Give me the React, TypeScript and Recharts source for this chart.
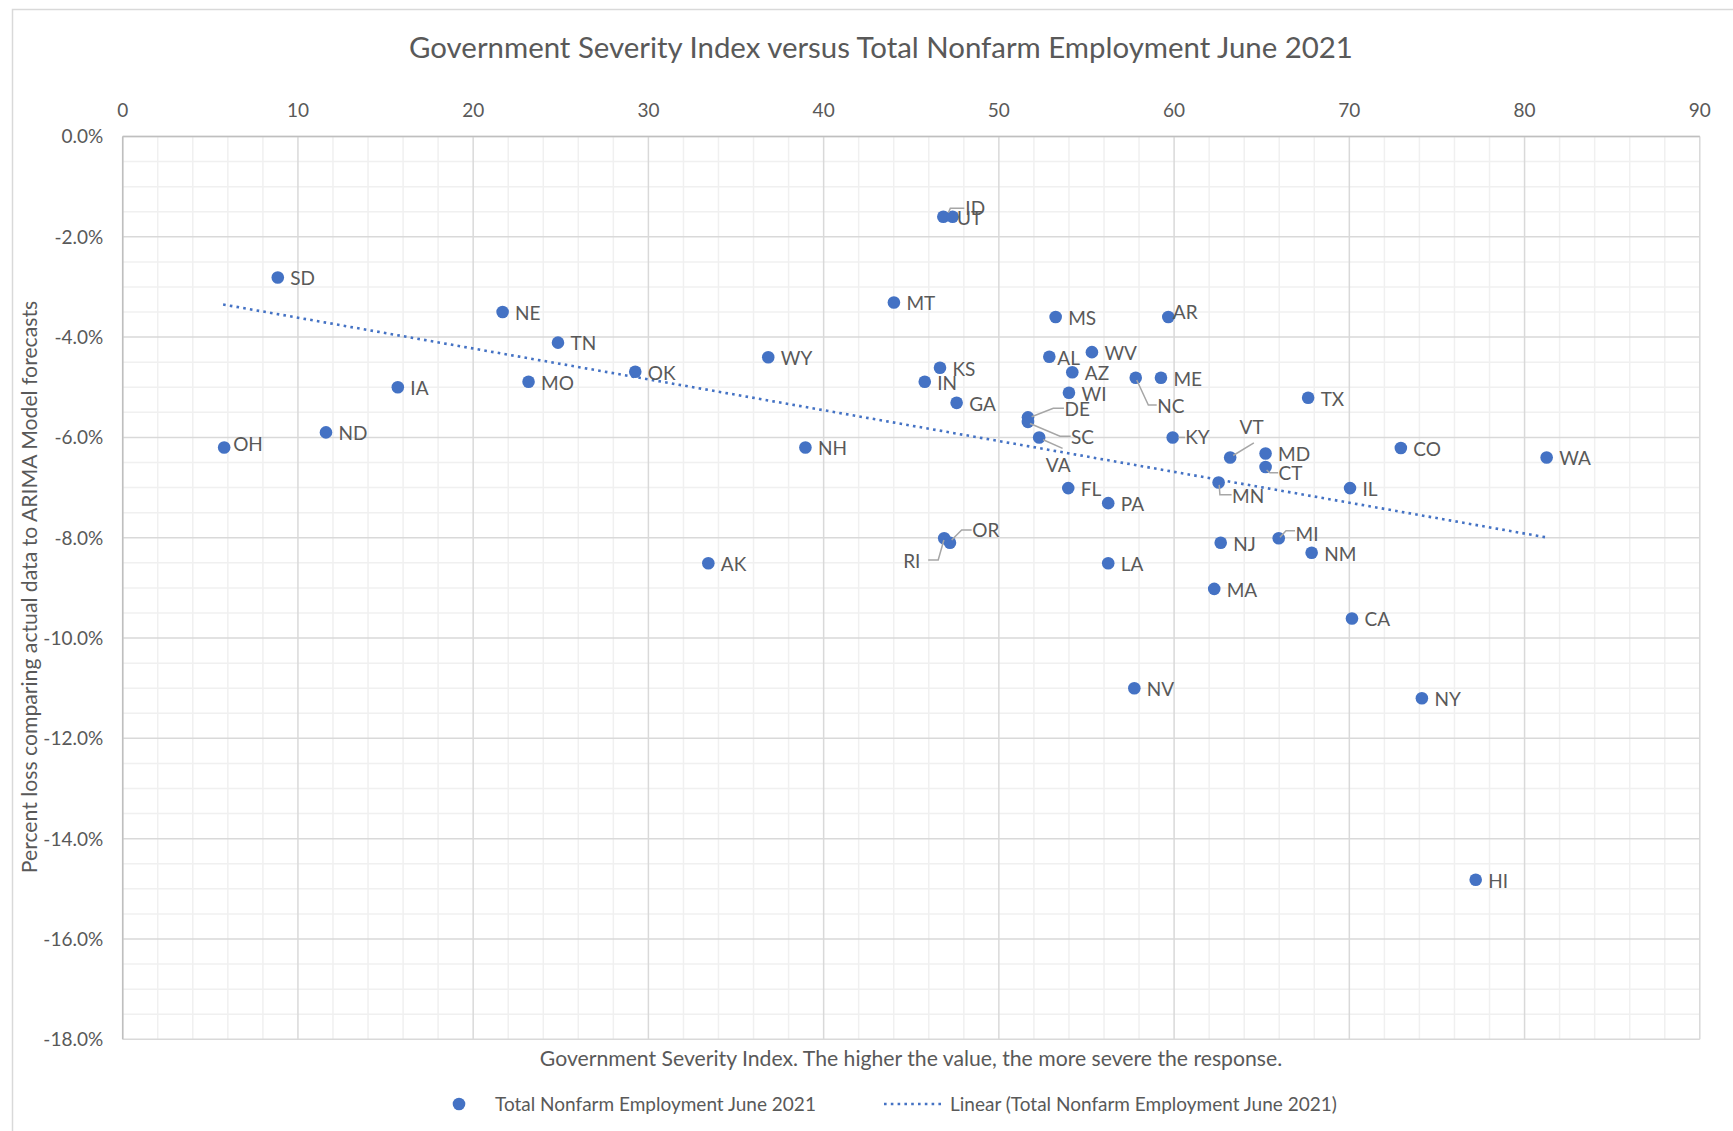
import React from 'react';
import { ScatterChart, Scatter, XAxis, YAxis, CartesianGrid } from 'recharts';

// ---------- data ----------
const states = ['OH','SD','ND','IA','NE','MO','TN','OK','AK','WY','NH','MT','IN','KS','ID','UT','RI','OR','GA','DE','SC','VA','AL','MS','FL','WI','AZ','WV','PA','LA','NV','NC','ME','AR','KY','MA','MN','NJ','VT','MD','CT','MI','TX','NM','IL','CA','CO','NY','HI','WA'];
const severityIndex = [5.79, 8.85, 11.60, 15.70, 21.68, 23.16, 24.84, 29.25, 33.42, 36.84, 38.96, 44.01, 45.77, 46.64, 46.83, 47.36, 46.88, 47.21, 47.59, 51.66, 51.66, 52.30, 52.88, 53.24, 53.96, 54.00, 54.19, 55.31, 56.24, 56.24, 57.73, 57.81, 59.25, 59.67, 59.92, 62.29, 62.54, 62.66, 63.20, 65.22, 65.22, 65.97, 67.65, 67.85, 70.04, 70.15, 72.94, 74.14, 77.21, 81.26];
const percentLoss = [-6.20, -2.81, -5.90, -5.00, -3.50, -4.89, -4.11, -4.69, -8.51, -4.40, -6.20, -3.31, -4.89, -4.61, -1.60, -1.60, -8.01, -8.10, -5.31, -5.60, -5.69, -6.00, -4.39, -3.60, -7.01, -5.11, -4.70, -4.30, -7.31, -8.51, -11.00, -4.81, -4.81, -3.60, -6.00, -9.02, -6.90, -8.10, -6.40, -6.32, -6.59, -8.01, -5.21, -8.30, -7.01, -9.61, -6.21, -11.20, -14.82, -6.40];

// linear trendline end points
const trendX = [5.73, 81.2];
const trendY = [-3.35, -7.99];

const xTicks = [0, 10, 20, 30, 40, 50, 60, 70, 80, 90];
const yTicks = [0, -2, -4, -6, -8, -10, -12, -14, -16, -18];

const title = 'Government Severity Index versus Total Nonfarm Employment June 2021';
const xTitle = 'Government Severity Index. The higher the value, the more severe the response.';
const yTitle = 'Percent loss comparing actual data to ARIMA Model forecasts';
const seriesName = 'Total Nonfarm Employment June 2021';
const trendName = 'Linear (Total Nonfarm Employment June 2021)';

// ---------- derived tables ----------
const points = states.map((s, i) => ({ state: s, x: severityIndex[i], y: percentLoss[i] }));
const trendData = trendX.map((x, i) => ({ x, y: trendY[i] }));

const xMinor: number[] = [];
for (let i = 0; i < xTicks.length - 1; i++) {
  for (let k = 1; k < 5; k++) xMinor.push(xTicks[i] + k * 2);
}
const yMinor: number[] = [];
for (let i = 0; i < yTicks.length - 1; i++) {
  for (let k = 1; k < 4; k++) yMinor.push(yTicks[i] - k * 0.5);
}

// ---------- style ----------
const FONT = 'Lato, "Open Sans", sans-serif';
const TXT = '#595959';
const BLUE = '#4472C4';
const FS = 19;
const CAP = 0.36;
const TITLE_FS = 29.4;
const AXT_FS = 21.2;

type LabelCfg = { dx?: number; dy?: number; anchor?: 'start' | 'middle' | 'end'; leader?: number[][] };
const labelLayout: Record<string, LabelCfg> = {
  ID: { dx: 22, dy: -8.4, leader: [[5, -4], [7, -8.4], [21, -8.4]] },
  UT: { dx: 4.5, dy: 1.6 },
  DE: { dx: 36.5, dy: -8, leader: [[3.7, -0.6], [25.3, -9], [36, -9]] },
  SC: { dx: 43, dy: 15, leader: [[2, 1.6], [32, 14.3], [42.7, 14.3]] },
  VA: { dx: 19, dy: 27.3, anchor: 'middle', leader: [[4, 2.3], [23.4, 11]] },
  NC: { dx: 21.5, dy: 28.3, leader: [[1, 2.3], [12.6, 27.3], [21, 27.3]] },
  KY: { dx: 12.5, dy: 0, leader: [[5.6, 0], [12.3, 0]] },
  AR: { dx: 4.5, dy: -4.6 },
  VT: { dx: 21.4, dy: -30, anchor: 'middle', leader: [[3, -2], [23.7, -14.6]] },
  CT: { dx: 13, dy: 6.3, leader: [[1, 3], [4.3, 5.7], [12.6, 5.7]] },
  MN: { dx: 13.5, dy: 14, leader: [[0.6, 2.3], [1.3, 12.3], [13, 12.3]] },
  MI: { dx: 16.8, dy: -4, leader: [[1.3, -1], [7.3, -7.6], [16.3, -7.6]] },
  OR: { dx: 22.2, dy: -12.7, leader: [[1.7, -2.7], [11.7, -12.7], [21.7, -12.7]] },
  RI: { dx: -23.8, dy: 23.4, anchor: 'end', leader: [[-0.3, 1.7], [-6, 21.7], [-16, 21.7]] },
  AL: { dx: 8 },
  OH: { dx: 9, dy: -3 },
};

const Marker = (props: any) => {
  const { cx, cy } = props;
  if (cx == null || cy == null) return null;
  return <circle cx={cx} cy={cy} r={6.3} fill={BLUE} />;
};

const NoShape = () => null;

const PointLabel = (props: any) => {
  const { cx, cy, payload } = props;
  if (cx == null || cy == null || !payload) return null;
  const cfg = labelLayout[payload.state] || {};
  const dx = cfg.dx ?? 12.5;
  const dy = cfg.dy ?? 1;
  const anchor = cfg.anchor ?? 'start';
  return (
    <g>
      {cfg.leader && (
        <polyline
          points={cfg.leader.map(([a, b]) => `${cx + a},${cy + b}`).join(' ')}
          fill="none"
          stroke="#a6a6a6"
          strokeWidth={1.5}
        />
      )}
      <text x={cx + dx} y={cy + dy + CAP * FS} textAnchor={anchor} fontFamily={FONT} fontSize={FS} fill={TXT}>
        {payload.state}
      </text>
    </g>
  );
};

const XTick = (props: any) => {
  const { x, y, payload } = props;
  return (
    <text x={x} y={y - 26.5 + CAP * FS} textAnchor="middle" fontFamily={FONT} fontSize={FS} fill={TXT}>
      {payload.value}
    </text>
  );
};

const YTick = (props: any) => {
  const { x, y, payload } = props;
  return (
    <text x={x - 19.5} y={y + CAP * FS} textAnchor="end" fontFamily={FONT} fontSize={FS} fill={TXT}>
      {`${Number(payload.value).toFixed(1)}%`}
    </text>
  );
};

const W = 1733;
const H = 1131;

export default function App() {
  return (
    <div style={{ position: 'absolute', left: 0, top: 0, width: W, height: H, background: '#fff' }}>
      <ScatterChart
        width={W}
        height={H}
        margin={{ top: 106.5, right: 33.2, bottom: 91.7, left: 62.7 }}
      >
        <CartesianGrid
          verticalValues={xMinor}
          horizontalValues={yMinor}
          stroke="#f0f0f0"
          strokeWidth={1.5}
          syncWithTicks={false}
        />
        <CartesianGrid
          verticalValues={xTicks}
          horizontalValues={yTicks}
          stroke="#d9d9d9"
          strokeWidth={1.5}
          syncWithTicks={false}
        />
        <XAxis
          type="number"
          dataKey="x"
          orientation="top"
          domain={[0, 90]}
          ticks={xTicks}
          interval={0}
          height={30}
          tickSize={0}
          tickMargin={0}
          tickLine={false}
          axisLine={{ stroke: '#bfbfbf', strokeWidth: 1.5 }}
          tick={<XTick />}
          allowDataOverflow
        />
        <YAxis
          type="number"
          dataKey="y"
          domain={[-18, 0]}
          ticks={yTicks}
          interval={0}
          width={60}
          tickSize={0}
          tickMargin={0}
          tickLine={false}
          axisLine={{ stroke: '#bfbfbf', strokeWidth: 1.5 }}
          tick={<YTick />}
          allowDataOverflow
        />
        <Scatter
          name={seriesName}
          data={points}
          shape={<Marker />}
          isAnimationActive={false}
        />
        <Scatter
          name={trendName}
          data={trendData}
          shape={<NoShape />}
          line={{ stroke: BLUE, strokeWidth: 2.6, strokeDasharray: '2.6 4.2' }}
          lineType="joint"
          isAnimationActive={false}
        />
        <Scatter
          name="labels"
          data={points}
          shape={<PointLabel />}
          legendType="none"
          isAnimationActive={false}
        />
      </ScatterChart>
      <svg
        width={W}
        height={H}
        style={{ position: 'absolute', left: 0, top: 0, pointerEvents: 'none' }}
      >
        <rect x={12.5} y={9.5} width={1740} height={1140} fill="none" stroke="#d9d9d9" strokeWidth={1.5} />
        <text x={881} y={47.5 + CAP * TITLE_FS} textAnchor="middle" fontFamily={FONT} fontSize={TITLE_FS} fill={TXT}>
          {title}
        </text>
        <text x={911} y={1058 + CAP * AXT_FS} textAnchor="middle" fontFamily={FONT} fontSize={AXT_FS} fill={TXT}>
          {xTitle}
        </text>
        <text
          transform="translate(29.5,587) rotate(-90)"
          x={0}
          y={CAP * AXT_FS}
          textAnchor="middle"
          fontFamily={FONT}
          fontSize={AXT_FS}
          fill={TXT}
        >
          {yTitle}
        </text>
        <circle cx={459} cy={1104} r={6.3} fill={BLUE} />
        <text x={495} y={1104 + CAP * FS} fontFamily={FONT} fontSize={FS} fill={TXT}>
          {seriesName}
        </text>
        <line x1={884} y1={1104} x2={941} y2={1104} stroke={BLUE} strokeWidth={2.6} strokeDasharray="2.6 4.2" />
        <text x={950} y={1104 + CAP * FS} fontFamily={FONT} fontSize={FS} fill={TXT}>
          {trendName}
        </text>
      </svg>
    </div>
  );
}
